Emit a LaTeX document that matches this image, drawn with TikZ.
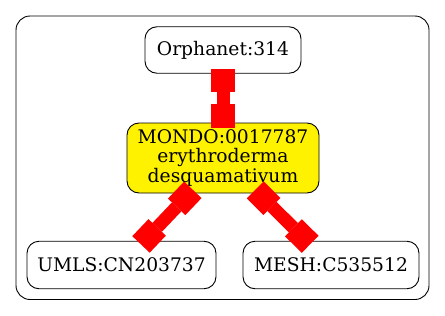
\documentclass[tikz,border=0pt]{standalone}
\usepackage{fontspec}
\setmainfont{DejaVu Serif}
\usetikzlibrary{arrows.meta}
\tikzset{
    term/.style={draw, line width=0.9pt, rounded corners=12pt, align=center, inner sep=0pt, font=\fontsize{18.7}{19.5}\selectfont},
    link/.style={red, line width=13pt, {Square[length=23.5pt,width=24pt,line width=0pt]}-{Square[length=23.5pt,width=24pt,line width=0pt]}, shorten <=-5pt, shorten >=-5pt}
}

\begin{document}
\begin{tikzpicture}[x=1pt, y=-1pt]
\useasboundingbox (0,0) rectangle (445,316);
% cluster frame
\draw[line width=0.9pt, rounded corners=14pt] (16,16) rectangle (429,299.5);
% terms
\node[term, minimum width=156pt, minimum height=46.5pt] (orphanet) at (223,50) {Orphanet:314};
\node[term, fill=yellow, minimum width=192pt, minimum height=70pt] (mondo) at (223,158) {MONDO:0017787\\erythroderma\\desquamativum};
\node[term, minimum width=189pt, minimum height=47.5pt] (umls) at (121.5,265) {UMLS:CN203737};
\node[term, minimum width=176pt, minimum height=47.5pt] (mesh) at (331,265) {MESH:C535512};
% xrefs
\foreach \a/\b in {orphanet/mondo, mondo/umls, mondo/mesh}
    \draw[link] (\a) -- (\b);
\end{tikzpicture}
\end{document}
